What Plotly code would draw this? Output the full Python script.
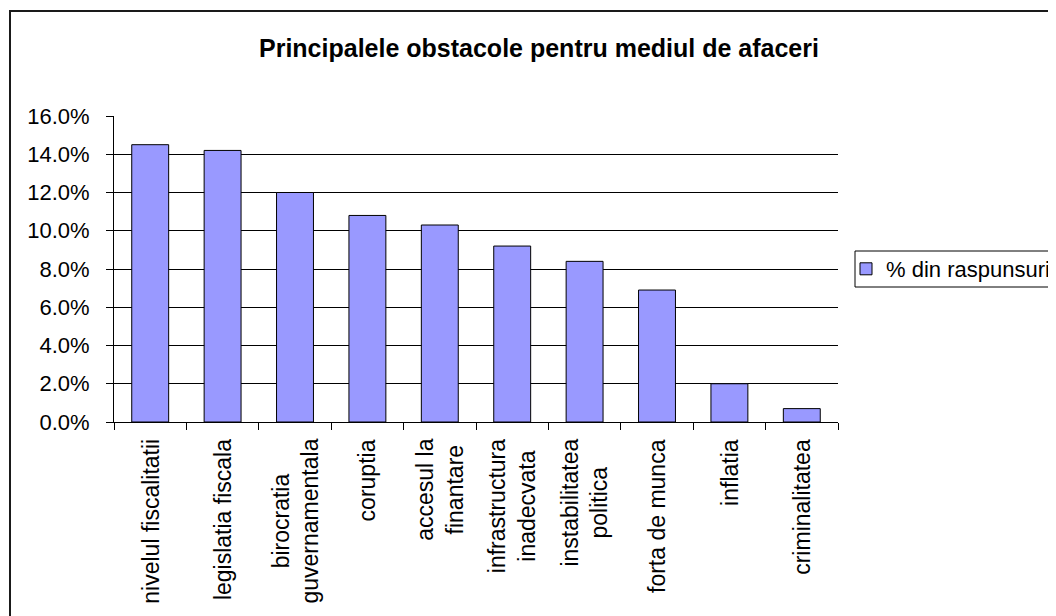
import plotly.graph_objects as go

categories = ["nivelul fiscalitatii", "legislatia fiscala", "birocratia guvernamentala",
              "coruptia", "accesul la finantare", "infrastructura inadecvata",
              "instabilitatea politica", "forta de munca", "inflatia", "criminalitatea"]
tick_labels = ["nivelul fiscalitatii", "legislatia fiscala", "birocratia<br>guvernamentala",
               "coruptia", "accesul la<br>finantare", "infrastructura<br>inadecvata",
               "instabilitatea<br>politica", "forta de munca", "inflatia", "criminalitatea"]
values = [0.145, 0.142, 0.120, 0.108, 0.103, 0.092, 0.084, 0.069, 0.020, 0.007]
series_name = "% din raspunsuri"
title = "Principalele obstacole pentru mediul de afaceri"

FONT = "Liberation Sans, Arial, sans-serif"
OFF = 8  # default page body margin
W, H = 1056 - OFF, 616 - OFF
ML, MR, MT, MB = 106, 218, 108, 194
PW, PH = W - ML - MR, H - MT - MB

def px_x(px):
    return (px - OFF - ML) / PW

def px_y(py):
    return (H - MB - (py - OFF)) / PH

fig = go.Figure()
fig.add_trace(go.Bar(
    x=categories, y=values, name=series_name,
    marker=dict(color="#9999FF", line=dict(color="#000000", width=1)),
    showlegend=True,
))

annotations = [dict(
    x=cat, y=px_y(437), xref="x", yref="paper",
    text=lab, textangle=-90, showarrow=False,
    xanchor="center", yanchor="top", align="center",
    font=dict(family=FONT, size=23, color="#000000"),
) for cat, lab in zip(categories, tick_labels)]

annotations.append(dict(
    x=px_x(539), y=px_y(48), xref="paper", yref="paper",
    text="<b>" + title + "</b>", showarrow=False,
    xanchor="center", yanchor="middle",
    font=dict(family=FONT, size=25, color="#000000"),
))

fig.update_layout(
    width=W, height=H,
    margin=dict(l=ML, r=MR, t=MT, b=MB, pad=0, autoexpand=False),
    paper_bgcolor="white", plot_bgcolor="white",
    font=dict(family=FONT, size=22, color="#000000"),
    bargap=0.49,
    annotations=annotations,
    showlegend=True,
    legend=dict(
        x=px_x(846), y=px_y(269), xanchor="left", yanchor="middle",
        borderwidth=0, bgcolor="rgba(0,0,0,0)",
        font=dict(family=FONT, size=22, color="#000000"),
        itemwidth=30,
    ),
    shapes=[
        dict(
            type="rect", xref="paper", yref="paper",
            x0=px_x(10), x1=px_x(1080), y0=px_y(660), y1=px_y(11),
            line=dict(color="#1a1a1a", width=2), fillcolor="rgba(0,0,0,0)",
            layer="below",
        ),
        dict(
            type="rect", xref="paper", yref="paper",
            x0=px_x(855), x1=px_x(1080), y0=px_y(287), y1=px_y(251),
            line=dict(color="#000000", width=1), fillcolor="white",
            layer="below",
        ),
    ],
)

fig.update_xaxes(
    type="category", showticklabels=False,
    showline=True, linecolor="#000000", linewidth=1,
    ticks="outside", tickson="boundaries", ticklen=7, tickcolor="#000000",
    showgrid=False, zeroline=False,
)
fig.update_yaxes(
    range=[0, 0.16], dtick=0.02, tickformat=".1%",
    showline=True, linecolor="#000000", linewidth=1,
    ticks="outside", ticklen=7, tickcolor="#000000",
    showgrid=True, gridcolor="#000000", gridwidth=1,
    zeroline=False, ticklabelstandoff=12,
    tickfont=dict(family=FONT, size=22, color="#000000"),
)

fig.write_html("out.html")
